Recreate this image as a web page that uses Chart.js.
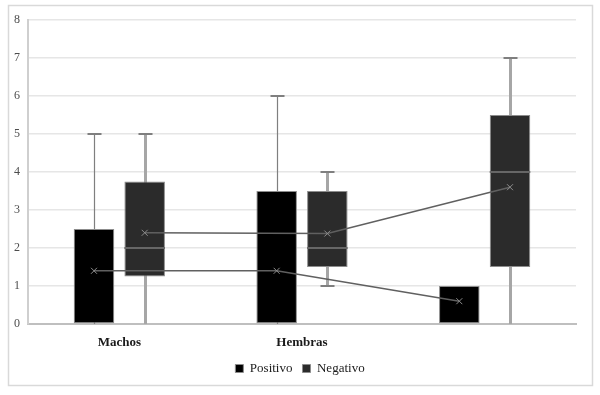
<!doctype html>
<html>

<head>
  <title>Box plot Machos / Hembras</title>
  <script src="https://cdn.jsdelivr.net/npm/chart.js@4.4.1/dist/chart.umd.min.js"></script>
  <style>
    body { margin: 0; background: #fff; }
    .chart { width: 600px; height: 395px; }
  </style>
</head>

<body>
  <div class="chart">
    <canvas id="myChart"></canvas>
  </div>

  <script>
    var categories = ['Machos', 'Hembras', ''];
    var seriesNames = ['Positivo', 'Negativo'];

    // box (Q1..Q3)
    var positivoBox = [[0, 2.5], [0, 3.5], [0, 1]];
    var negativoBox = [[1.25, 3.75], [1.5, 3.5], [1.5, 5.5]];
    // whiskers (min, max), null = none
    var positivoWhisker = [[0, 5], [0, 6], null];
    var negativoWhisker = [[0, 5], [1, 4], [0, 7]];
    // medians
    var positivoMedian = [null, null, null];
    var negativoMedian = [2, 2, 4];
    // means
    var positivoMean = [1.4, 1.4, 0.6];
    var negativoMean = [2.4, 2.38, 3.6];

    var yTicks = [0, 1, 2, 3, 4, 5, 6, 7, 8];

    var whiskers = [positivoWhisker, negativoWhisker];
    var medians = [positivoMedian, negativoMedian];
    var means = [positivoMean, negativoMean];

    var boxPlugin = {
      id: 'boxExtras',
      beforeDraw: function(chart) {
        var ctx = chart.ctx;
        ctx.save();
        ctx.fillStyle = '#fff';
        ctx.fillRect(0, 0, chart.width, chart.height);
        ctx.strokeStyle = '#d9d9d9';
        ctx.lineWidth = 1.5;
        ctx.strokeRect(8.5, 5.5, 584, 380);
        ctx.restore();
      },
      beforeDatasetsDraw: function(chart) {
        var ctx = chart.ctx;
        var y = chart.scales.y;
        ctx.save();
        for (var d = 0; d < 2; d++) {
          var meta = chart.getDatasetMeta(d);
          meta.data.forEach(function(bar, i) {
            var w = whiskers[d][i];
            if (!w) return;
            var x = Math.round(bar.x) + 0.5;
            var y0 = y.getPixelForValue(w[0]);
            var y1 = y.getPixelForValue(w[1]);
            ctx.strokeStyle = d === 0 ? '#7f7f7f' : '#a6a6a6';
            ctx.lineWidth = d === 0 ? 1.2 : 3;
            ctx.beginPath();
            ctx.moveTo(x, y0);
            ctx.lineTo(x, y1);
            ctx.stroke();
            ctx.lineWidth = 2;
            ctx.strokeStyle = '#7f7f7f';
            ctx.beginPath();
            ctx.moveTo(x - 7, y1);
            ctx.lineTo(x + 7, y1);
            if (w[0] > 0) {
              ctx.moveTo(x - 7, y0);
              ctx.lineTo(x + 7, y0);
            }
            ctx.stroke();
          });
        }
        ctx.restore();
      },
      afterDatasetsDraw: function(chart) {
        var ctx = chart.ctx;
        var y = chart.scales.y;
        ctx.save();
        for (var d = 0; d < 2; d++) {
          var meta = chart.getDatasetMeta(d);
          // medians
          ctx.strokeStyle = '#666666';
          ctx.lineWidth = 2;
          meta.data.forEach(function(bar, i) {
            var m = medians[d][i];
            if (m === null) return;
            var py = y.getPixelForValue(m);
            ctx.beginPath();
            ctx.moveTo(bar.x - bar.width / 2, py);
            ctx.lineTo(bar.x + bar.width / 2, py);
            ctx.stroke();
          });
          // mean line
          ctx.strokeStyle = '#606060';
          ctx.lineWidth = 1.6;
          ctx.beginPath();
          meta.data.forEach(function(bar, i) {
            var py = y.getPixelForValue(means[d][i]);
            if (i === 0) ctx.moveTo(bar.x, py); else ctx.lineTo(bar.x, py);
          });
          ctx.stroke();
          // mean markers
          ctx.strokeStyle = '#8c8c8c';
          ctx.lineWidth = 1;
          meta.data.forEach(function(bar, i) {
            var py = y.getPixelForValue(means[d][i]);
            ctx.beginPath();
            ctx.moveTo(bar.x - 3, py - 3);
            ctx.lineTo(bar.x + 3, py + 3);
            ctx.moveTo(bar.x + 3, py - 3);
            ctx.lineTo(bar.x - 3, py + 3);
            ctx.stroke();
          });
        }
        ctx.restore();
      }
    };

    var config = {
      type: 'bar',
      data: {
        labels: categories,
        datasets: [{
          label: seriesNames[0],
          data: positivoBox,
          backgroundColor: '#000000',
          borderColor: '#8c8c8c',
          borderWidth: 1,
          borderSkipped: false
        }, {
          label: seriesNames[1],
          data: negativoBox,
          backgroundColor: '#2b2b2b',
          borderColor: '#8c8c8c',
          borderWidth: 1,
          borderSkipped: false
        }]
      },
      options: {
        responsive: true,
        maintainAspectRatio: false,
        animation: false,
        layout: {
          padding: { left: 8, right: 8, top: 20, bottom: 10 }
        },
        datasets: {
          bar: {
            categoryPercentage: 0.555,
            barPercentage: 0.8,
            grouped: true
          }
        },
        scales: {
          x: {
            grid: { display: false },
            border: { color: '#bfbfbf', width: 2 },
            ticks: {
              color: '#1a1a1a',
              font: { family: 'Liberation Serif', size: 13, weight: 'bold' },
              padding: 3
            },
            afterFit: function(scale) { scale.height = 28; }
          },
          y: {
            min: 0,
            max: 8,
            afterBuildTicks: function(scale) {
              scale.ticks = yTicks.map(function(v) { return { value: v }; });
            },
            grid: { color: '#e6e6e6', lineWidth: 1.5, drawTicks: false },
            border: { color: '#cfcfcf', width: 2 },
            ticks: {
              color: '#4d4d4d',
              font: { family: 'Liberation Serif', size: 12 },
              padding: 8
            },
            afterFit: function(scale) { scale.width = 20; }
          },
          yRight: {
            position: 'right',
            min: 0,
            max: 8,
            grid: { display: false },
            border: { display: false },
            ticks: { display: false },
            afterFit: function(scale) { scale.width = 16; }
          }
        },
        plugins: {
          legend: {
            position: 'bottom',
            labels: {
              color: '#1a1a1a',
              font: { family: 'Liberation Serif', size: 13 },
              boxWidth: 8,
              boxHeight: 8,
              padding: 10
            }
          },
          tooltip: { enabled: false }
        }
      },
      plugins: [boxPlugin]
    };

    window.onload = function() {
      var ctx = document.getElementById('myChart').getContext('2d');
      window.myChart = new Chart(ctx, config);
    };
  </script>
</body>

</html>
